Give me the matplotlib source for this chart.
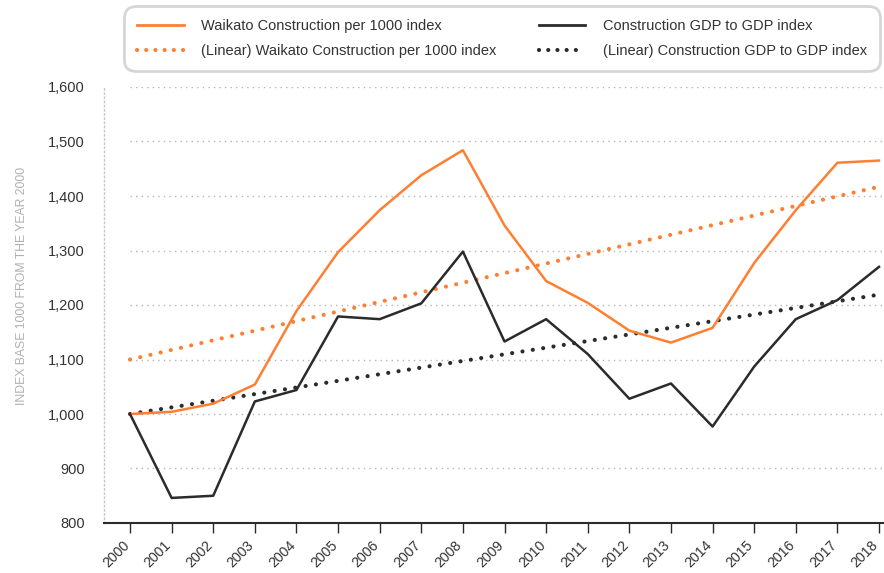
import matplotlib
matplotlib.use("Agg")
import matplotlib.pyplot as plt
from matplotlib.lines import Line2D
from matplotlib.transforms import ScaledTranslation

plt.rcParams['font.family'] = ['Liberation Sans', 'DejaVu Sans']

years = list(range(2000, 2019))
waikato_index = [1000, 1004, 1019, 1054, 1189, 1297, 1374, 1438, 1484, 1346,
                 1244, 1204, 1153, 1131, 1158, 1277, 1374, 1461, 1465]
gdp_index = [1000, 846, 850, 1023, 1044, 1179, 1174, 1203, 1298, 1133,
             1174, 1110, 1028, 1056, 977, 1087, 1174, 1209, 1270]
# trend line end points (2000, 2018)
trend_years = [2000, 2018]
waikato_trend = [1100, 1417]
gdp_trend = [1000, 1219]

yticks = [800, 900, 1000, 1100, 1200, 1300, 1400, 1500, 1600]
ylabel = "INDEX BASE 1000 FROM THE YEAR 2000"

orange = '#FF7F32'
dark = '#2b2b2b'

fig = plt.figure(figsize=(8.84, 5.73), dpi=100)
ax = fig.add_axes([104 / 884, 1 - 523 / 573, 780 / 884, (523 - 87) / 573])

ax.set_xlim(1999.375, 2018.12)
ax.set_ylim(800, 1600)

# horizontal dotted gridlines
ax.hlines(yticks[1:], years[0], ax.get_xlim()[1], colors='#b5b5b5',
          linestyles=(0, (1, 3)), linewidth=1, zorder=1)

ax.plot(years, waikato_index, color=orange, linewidth=1.8, zorder=3)
ax.plot(years, gdp_index, color=dark, linewidth=1.8, zorder=3)
ax.plot(trend_years, waikato_trend, color=orange, linewidth=3,
        linestyle=(0, (0.01, 2.5)), dash_capstyle='round', zorder=2)
ax.plot(trend_years, gdp_trend, color=dark, linewidth=3,
        linestyle=(0, (0.01, 2.5)), dash_capstyle='round', zorder=2)

for s in ['top', 'right']:
    ax.spines[s].set_visible(False)
ax.spines['left'].set_linestyle((0, (1, 2)))
ax.spines['left'].set_color('#c8c8c8')
ax.spines['left'].set_linewidth(1)
ax.spines['bottom'].set_color(dark)
ax.spines['bottom'].set_linewidth(1.5)

ax.set_yticks(yticks)
ax.set_yticklabels([f"{v:,}" for v in yticks])
ax.tick_params(axis='y', length=0, pad=14, labelsize=10.5, labelcolor='#333333')

ax.set_xticks(years)
ax.set_xticklabels([str(y) for y in years], rotation=45, ha='right',
                   va='center', rotation_mode='anchor')
ax.tick_params(axis='x', length=7, width=1, color=dark, pad=7.5,
               labelsize=10.2, labelcolor='#333333')
shift = ScaledTranslation(-3 / 100, 0, fig.dpi_scale_trans)
for lbl in ax.get_xticklabels():
    lbl.set_transform(lbl.get_transform() + shift)

fig.text(22 / 884, 1 - 286 / 573, ylabel, rotation=90, ha='center',
         va='center', fontsize=8.8, color='#b0b0b0')

handles = [
    Line2D([], [], color=orange, linewidth=2),
    Line2D([], [], color=orange, linewidth=3, linestyle=(0, (0.01, 2.2)),
           dash_capstyle='round'),
    Line2D([], [], color=dark, linewidth=2),
    Line2D([], [], color=dark, linewidth=3, linestyle=(0, (0.01, 2.2)),
           dash_capstyle='round'),
]
labels = [
    "Waikato Construction per 1000 index",
    "(Linear) Waikato Construction per 1000 index",
    "Construction GDP to GDP index",
    "(Linear) Construction GDP to GDP index",
]
leg = fig.legend(handles, labels, ncol=2, loc='upper left', mode='expand',
                 bbox_to_anchor=(124 / 884, 1 - 72 / 573, 756 / 884, 66 / 573),
                 fontsize=10.5, frameon=True, handlelength=3.2,
                 handletextpad=1.2, labelspacing=0.75, borderpad=0.9,
                 borderaxespad=0)
frame = leg.get_frame()
frame.set_edgecolor('#cccccc')
frame.set_linewidth(2)
frame.set_boxstyle('round,pad=0,rounding_size=0.8')
for t in leg.get_texts():
    t.set_color('#333333')

fig.savefig("out.png", dpi=100)
